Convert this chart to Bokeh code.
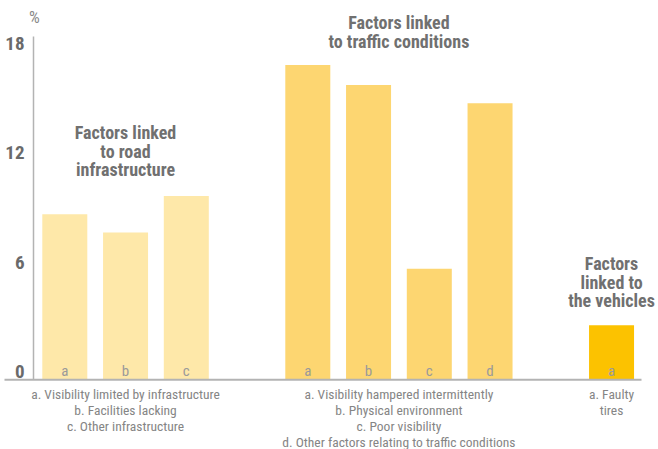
from bokeh.plotting import figure
from bokeh.models import Range1d, ColumnDataSource
from bokeh.core.properties import value
from bokeh.embed import file_html
from bokeh.resources import INLINE

# --- data -----------------------------------------------------------------
group_titles = [
    ["Factors linked", "to road", "infrastructure"],
    ["Factors linked", "to traffic conditions"],
    ["Factors", "linked to", "the vehicles"],
]
infra_letters = ["a", "b", "c"]
infra_values = [9.1, 8.1, 10.1]
traffic_letters = ["a", "b", "c", "d"]
traffic_values = [17.3, 16.2, 6.1, 15.2]
vehicle_letters = ["a"]
vehicle_values = [3.0]
infra_notes = [
    "a. Visibility limited by infrastructure",
    "b. Facilities lacking",
    "c. Other infrastructure",
]
traffic_notes = [
    "a. Visibility hampered intermittently",
    "b. Physical environment",
    "c. Poor visibility",
    "d. Other factors relating to traffic conditions",
]
vehicle_notes = ["a. Faulty", "tires"]
y_ticks = [0, 6, 12, 18]

# --- styling --------------------------------------------------------------
FONT = "Roboto Condensed, Roboto, sans-serif"
group_colors = ["#fee8a9", "#fdd671", "#fcc200"]
TITLE_COLOR = "#707070"
NOTE_COLOR = "#858585"
LETTER_COLOR = "#9a9a9a"
AXIS_COLOR = "#b3b3b3"

W, H = 658, 449
SLOT_PX = 60.75      # horizontal distance between neighbouring bars
SLOT0_PX = 64.3      # centre of the first bar
BASE_PX = 379.3      # pixel row of the zero line
UNIT_PX = 18.2       # pixels per percentage point


def sx(px):
    return (px - SLOT0_PX) / SLOT_PX


def sy(py):
    return (BASE_PX - py) / UNIT_PX


p = figure(
    width=W, height=H,
    x_range=Range1d(sx(0), sx(W)), y_range=Range1d(sy(H), sy(0)),
    output_backend="svg", toolbar_location=None,
    x_axis_type=None, y_axis_type=None, min_border=0,
)
p.outline_line_color = None
p.background_fill_color = "white"
p.border_fill_color = "white"

groups = [
    (infra_letters, infra_values, infra_notes),
    (traffic_letters, traffic_values, traffic_notes),
    (vehicle_letters, vehicle_values, vehicle_notes),
]

# bars, one empty slot between groups
xs, tops, colors, letters = [], [], [], []
centers = []
slot = 0
for gi, (lets, vals, _) in enumerate(groups):
    first = slot
    for l, v in zip(lets, vals):
        xs.append(slot)
        tops.append(v)
        colors.append(group_colors[gi])
        letters.append(l)
        slot += 1
    centers.append((first + slot - 1) / 2)
    slot += 1

src = ColumnDataSource(dict(x=xs, top=tops, color=colors, letter=letters,
                            ly=[sy(370.7)] * len(xs)))
p.vbar(x="x", top="top", width=45 / SLOT_PX, bottom=0, source=src,
       fill_color="color", line_color=None)

p.text(x="x", y="ly", text="letter", source=src,
       text_font=value(FONT), text_font_size="15px", text_color=LETTER_COLOR,
       text_align="center", text_baseline="middle")

# axes
p.segment(x0=[sx(4)], y0=[0], x1=[sx(641)], y1=[0],
          line_color=AXIS_COLOR, line_width=2)
p.segment(x0=[sx(33)], y0=[0], x1=[sx(33)], y1=[sy(36)],
          line_color=AXIS_COLOR, line_width=1.5)

p.text(x=[sx(24)] * len(y_ticks), y=[t + 2 / UNIT_PX for t in y_ticks],
       text=[str(t) for t in y_ticks],
       text_font=value(FONT), text_font_size="19px", text_font_style="bold",
       text_color="#6a6a6a", text_align="right", text_baseline="bottom")

p.text(x=[sx(34)], y=[sy(16.5)], text=["%"],
       text_font=value(FONT), text_font_size="17px", text_color="#8a8a8a",
       text_align="center", text_baseline="middle")

# group titles
title_rows = [(132, 18.6), (22, 19.0), (263, 18.6)]
for gi, lines in enumerate(group_titles):
    top_px, step = title_rows[gi]
    p.text(x=[centers[gi]] * len(lines),
           y=[sy(top_px + i * step) for i in range(len(lines))],
           text=lines, text_font=value(FONT), text_font_size="18px",
           text_font_style="bold", text_color=TITLE_COLOR,
           text_align="center", text_baseline="middle")

# explanatory notes under each group
for gi, (_, _, notes) in enumerate(groups):
    p.text(x=[centers[gi]] * len(notes),
           y=[sy(393 + i * 16.3) for i in range(len(notes))],
           text=notes, text_font=value(FONT), text_font_size="13.5px",
           text_color=NOTE_COLOR, text_align="center", text_baseline="middle")

open("out.html", "w").write(file_html(p, INLINE))
